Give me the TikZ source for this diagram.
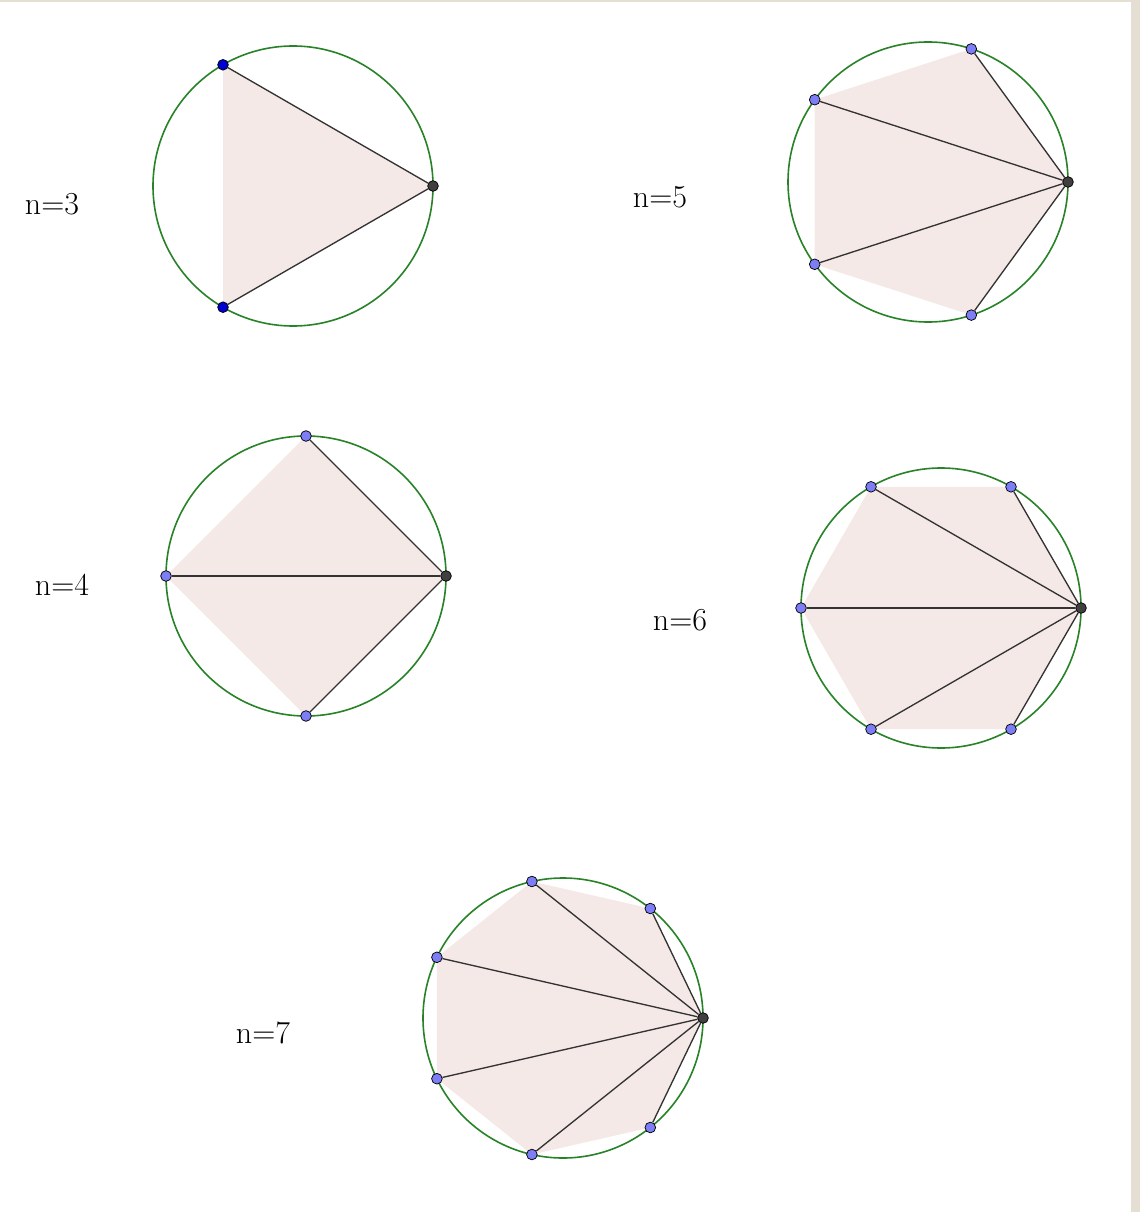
\documentclass[tikz,border=0pt]{standalone}
\usepackage{tikz}
\usetikzlibrary{positioning}
\definecolor{ringgreen}{RGB}{40,130,40}
\definecolor{polyfill}{RGB}{244,233,230}
\definecolor{ptblue}{RGB}{125,125,245}
\definecolor{ptdark}{RGB}{64,64,64}
\definecolor{ptdeep}{RGB}{0,0,210}
\definecolor{frame}{RGB}{229,222,211}

\begin{document}
\begin{tikzpicture}[
    x=0.75pt, y=-0.75pt,
    ring/.style={draw=ringgreen, line width=1.2pt},
    poly/.style={fill=polyfill, draw=none},
    chord/.style={draw=black!80, line width=1pt},
    pt/.style={circle, draw=black, line width=0.55pt, fill=ptblue,
               inner sep=0pt, minimum size=8pt},
    anchorpt/.style={pt, fill=ptdark},
    deeppt/.style={pt, fill=ptdeep},
    lbl/.style={font=\fontsize{24}{28}\selectfont},
]

% ── Frame ────────────────────────────────────────────────────
\fill[white] (0,0) rectangle (1140,1212);
\fill[frame] (0,0) rectangle (1140,2);
\fill[frame] (1131,0) rectangle (1140,1212);
\useasboundingbox (0,0) rectangle (1140,1212);

% ── n=3 ──────────────────────────────────────────────────────
\fill[poly] (433,186) -- (223,64.8) -- (223,307.2) -- cycle;
\draw[ring] (293,186) circle[radius=140];
\node[anchorpt] (t0) at (433,186) {};
\node[deeppt] (t1) at (223,64.8) {};
\node[deeppt] (t2) at (223,307.2) {};
\draw[chord] (t0) -- (t1);
\draw[chord] (t0) -- (t2);
\node[lbl] (l3) at (52,204) {n=3};

% ── n=5 ──────────────────────────────────────────────────────
\fill[poly] (1068,182) -- (971.3,48.9) -- (814.7,99.7) -- (814.7,264.3)
    -- (971.3,315.1) -- cycle;
\draw[ring] (928,182) circle[radius=140];
\node[anchorpt] (f0) at (1068,182) {};
\node[pt] (f1) at (971.3,48.9) {};
\node[pt] (f2) at (814.7,99.7) {};
\node[pt] (f3) at (814.7,264.3) {};
\node[pt] (f4) at (971.3,315.1) {};
\draw[chord] (f0) -- (f1);
\draw[chord] (f0) -- (f2);
\draw[chord] (f0) -- (f3);
\draw[chord] (f0) -- (f4);
\node[lbl] (l5) at (660,197) {n=5};

% ── n=4 ──────────────────────────────────────────────────────
\fill[poly] (446,576) -- (306,436) -- (166,576) -- (306,716) -- cycle;
\draw[ring] (306,576) circle[radius=140];
\node[anchorpt] (q0) at (446,576) {};
\node[pt] (q1) at (306,436) {};
\node[pt] (q2) at (166,576) {};
\node[pt] (q3) at (306,716) {};
\draw[chord] (q0) -- (q1);
\draw[chord] (q0) -- (q2);
\draw[chord] (q0) -- (q3);
\node[lbl] (l4) at (62,585) {n=4};

% ── n=6 ──────────────────────────────────────────────────────
\fill[poly] (1081,608) -- (1011,486.8) -- (871,486.8) -- (801,608)
    -- (871,729.2) -- (1011,729.2) -- cycle;
\draw[ring] (941,608) circle[radius=140];
\node[anchorpt] (h0) at (1081,608) {};
\node[pt] (h1) at (1011,486.8) {};
\node[pt] (h2) at (871,486.8) {};
\node[pt] (h3) at (801,608) {};
\node[pt] (h4) at (871,729.2) {};
\node[pt] (h5) at (1011,729.2) {};
\draw[chord] (h0) -- (h1);
\draw[chord] (h0) -- (h2);
\draw[chord] (h0) -- (h3);
\draw[chord] (h0) -- (h4);
\draw[chord] (h0) -- (h5);
\node[lbl] (l6) at (680,620) {n=6};

% ── n=7 ──────────────────────────────────────────────────────
\fill[poly] (703,1018) -- (650.3,908.5) -- (531.9,881.5) -- (436.9,957.3)
    -- (436.9,1078.7) -- (531.9,1154.5) -- (650.3,1127.5) -- cycle;
\draw[ring] (563,1018) circle[radius=140];
\node[anchorpt] (s0) at (703,1018) {};
\node[pt] (s1) at (650.3,908.5) {};
\node[pt] (s2) at (531.9,881.5) {};
\node[pt] (s3) at (436.9,957.3) {};
\node[pt] (s4) at (436.9,1078.7) {};
\node[pt] (s5) at (531.9,1154.5) {};
\node[pt] (s6) at (650.3,1127.5) {};
\draw[chord] (s0) -- (s1);
\draw[chord] (s0) -- (s2);
\draw[chord] (s0) -- (s3);
\draw[chord] (s0) -- (s4);
\draw[chord] (s0) -- (s5);
\draw[chord] (s0) -- (s6);
\node[lbl] (l7) at (263,1033) {n=7};

\end{tikzpicture}
\end{document}
